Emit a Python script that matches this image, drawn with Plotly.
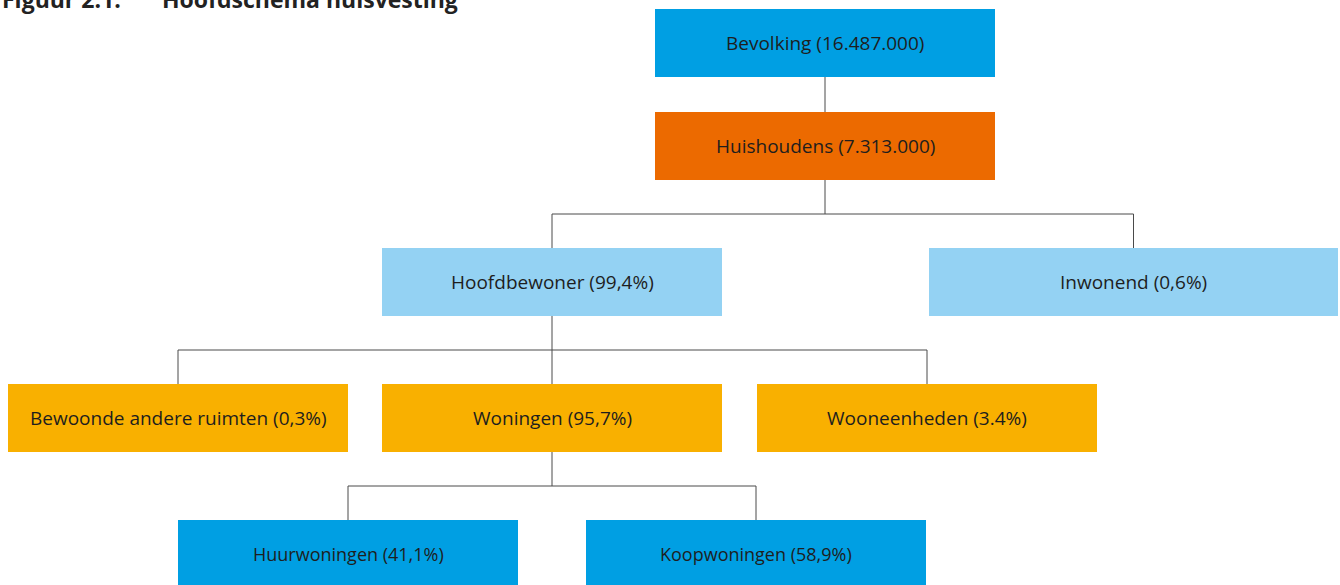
import plotly.graph_objects as go

# ---- data ----
node_names = ["Bevolking", "Huishoudens", "Hoofdbewoner", "Inwonend",
              "Bewoonde andere ruimten", "Woningen", "Wooneenheden",
              "Huurwoningen", "Koopwoningen"]
node_values = ["16.487.000", "7.313.000", "99,4%", "0,6%",
               "0,3%", "95,7%", "3.4%", "41,1%", "58,9%"]
node_parent = [None, 0, 1, 1, 2, 2, 2, 5, 5]
title_num = "Figuur 2.1."
title_text = "Hoofdschema huisvesting"

# ---- layout (positions / styles) ----
W, H = 1340, 585
box_h = 68
node_left = [655, 655, 382, 929, 8, 382, 757, 178, 586]
node_width = [340, 340, 340, 409, 340, 340, 340, 340, 340]
node_top = [9, 112, 248, 248, 384, 384, 384, 520, 520]
node_color = ["#009fe3", "#ec6a00", "#94d2f3", "#94d2f3",
              "#f9b000", "#f9b000", "#f9b000", "#009fe3", "#009fe3"]
node_fsize = [19] * 7 + [18] * 2
line_color = "#4a4a4a"
font_family = "Open Sans, Noto Sans, sans-serif"

fig = go.Figure()
shapes = []
annotations = []

def cx_of(i):
    return node_left[i] + node_width[i] / 2

# connectors
children = {}
for i, p in enumerate(node_parent):
    if p is not None:
        children.setdefault(p, []).append(i)
for p, ch in children.items():
    px = cx_of(p)
    pb = node_top[p] + box_h
    ct = node_top[ch[0]]
    mid = (pb + ct) / 2
    cxs = [cx_of(c) for c in ch]
    ln = dict(color=line_color, width=1)
    if len(ch) == 1:
        shapes.append(dict(type="line", x0=px, x1=px, y0=pb, y1=ct, line=ln, layer="below"))
        continue
    shapes.append(dict(type="line", x0=px, x1=px, y0=pb, y1=mid, line=ln, layer="below"))
    shapes.append(dict(type="line", x0=min(cxs + [px]), x1=max(cxs + [px]), y0=mid, y1=mid,
                       line=ln, layer="below"))
    for cx in cxs:
        shapes.append(dict(type="line", x0=cx, x1=cx, y0=mid, y1=ct, line=ln, layer="below"))

# boxes
for i, name in enumerate(node_names):
    x0, y0 = node_left[i], node_top[i]
    shapes.append(dict(type="rect", x0=x0, x1=x0 + node_width[i], y0=y0, y1=y0 + box_h,
                       fillcolor=node_color[i], line=dict(width=0), layer="above"))
    annotations.append(dict(x=cx_of(i), y=y0 + box_h / 2,
                            text=f"{name} ({node_values[i]})", showarrow=False,
                            xanchor="center", yanchor="middle",
                            font=dict(family=font_family, size=node_fsize[i], color="#1e1e1e")))

# title (partly cut off at top, as in reference)
for tx, tt in [(0, title_num), (160, title_text)]:
    annotations.append(dict(x=tx / W, y=1 + 1 / H, xref="paper", yref="paper",
                            text=f"<b>{tt}</b>", showarrow=False,
                            xanchor="left", yanchor="middle",
                            font=dict(family=font_family, size=23, color="#222222")))

fig.update_layout(
    width=W, height=H,
    margin=dict(l=0, r=0, t=0, b=0),
    paper_bgcolor="white", plot_bgcolor="white",
    xaxis=dict(range=[0, W], visible=False, fixedrange=True),
    yaxis=dict(range=[H, 0], visible=False, fixedrange=True),
    shapes=shapes, annotations=annotations, showlegend=False,
)
fig.write_html("out.html", config={"displayModeBar": False},
               post_script="document.body.style.margin='0';document.body.style.overflow='hidden';")
